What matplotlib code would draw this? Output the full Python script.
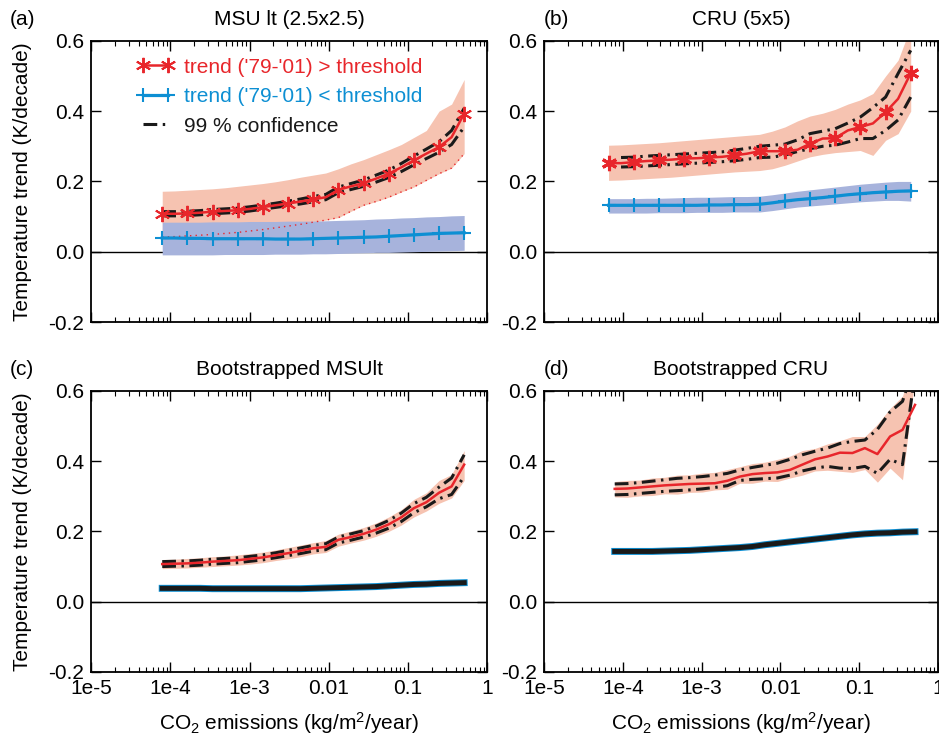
import matplotlib
matplotlib.use("Agg")
import matplotlib.pyplot as plt
import numpy as np
from matplotlib.lines import Line2D

plt.rcParams['font.family'] = ['Liberation Sans', 'DejaVu Sans']
plt.rcParams['mathtext.fontset'] = 'custom'
plt.rcParams['mathtext.rm'] = 'Liberation Sans'
plt.rcParams['mathtext.it'] = 'Liberation Sans:italic'

# emission bins (kg/m2/year)
x_msu = [7.9e-5, 1.14e-4, 1.64e-4, 2.37e-4, 3.41e-4, 4.91e-4, 7.08e-4, 1.02e-3,
         1.47e-3, 2.12e-3, 3.06e-3, 4.41e-3, 6.35e-3, 9.15e-3, 1.32e-2, 1.90e-2,
         2.74e-2, 3.95e-2, 5.69e-2, 8.2e-2, 0.118, 0.170, 0.246, 0.354, 0.51]
x_cru = [6.6e-5, 9.5e-5, 1.38e-4, 1.99e-4, 2.87e-4, 4.15e-4, 6.0e-4, 8.7e-4,
         1.25e-3, 1.81e-3, 2.61e-3, 3.77e-3, 5.45e-3, 7.87e-3, 1.14e-2, 1.64e-2,
         2.37e-2, 3.43e-2, 4.95e-2, 7.15e-2, 0.103, 0.149, 0.216, 0.311, 0.45]

# (a) MSU lt
a_hi = [0.108, 0.108, 0.109, 0.111, 0.114, 0.116, 0.118, 0.122, 0.127, 0.132, 0.137, 0.143,
        0.149, 0.155, 0.176, 0.186, 0.195, 0.208, 0.222, 0.240, 0.260, 0.279, 0.298, 0.326, 0.393]
a_hi_up = [0.114, 0.114, 0.115, 0.117, 0.120, 0.122, 0.124, 0.128, 0.133, 0.138, 0.144, 0.150,
           0.157, 0.163, 0.184, 0.194, 0.204, 0.218, 0.232, 0.251, 0.272, 0.292, 0.313, 0.345, 0.408]
a_hi_lo = [0.102, 0.102, 0.103, 0.105, 0.108, 0.110, 0.112, 0.116, 0.121, 0.126, 0.131, 0.136,
           0.142, 0.148, 0.168, 0.177, 0.186, 0.198, 0.211, 0.228, 0.247, 0.265, 0.283, 0.305, 0.355]
a_hi_smax = [0.172, 0.173, 0.175, 0.177, 0.179, 0.182, 0.186, 0.190, 0.194, 0.199, 0.205, 0.212,
             0.218, 0.224, 0.236, 0.250, 0.262, 0.276, 0.290, 0.305, 0.325, 0.345, 0.400, 0.420, 0.490]
a_hi_smin = [0.042, 0.043, 0.045, 0.047, 0.049, 0.052, 0.055, 0.059, 0.063, 0.068, 0.073, 0.078,
             0.084, 0.090, 0.097, 0.115, 0.132, 0.143, 0.155, 0.170, 0.184, 0.203, 0.222, 0.238, 0.279]
a_lo = [0.039, 0.039, 0.038, 0.038, 0.037, 0.037, 0.037, 0.037, 0.037, 0.036, 0.036, 0.036,
        0.037, 0.038, 0.039, 0.040, 0.041, 0.042, 0.044, 0.046, 0.048, 0.050, 0.052, 0.053, 0.054]
a_lo_smax = [0.084, 0.084, 0.084, 0.084, 0.085, 0.085, 0.085, 0.086, 0.086, 0.086, 0.087, 0.087,
             0.087, 0.088, 0.089, 0.090, 0.091, 0.093, 0.094, 0.096, 0.097, 0.099, 0.100, 0.102, 0.103]
a_lo_smin = [-0.009, -0.009, -0.009, -0.009, -0.009, -0.008, -0.008, -0.008, -0.008, -0.007, -0.007, -0.007,
             -0.006, -0.006, -0.005, -0.004, -0.003, -0.002, -0.002, -0.001, 0.0, 0.001, 0.002, 0.003, 0.004]

# (b) CRU
b_hi = [0.252, 0.252, 0.255, 0.258, 0.260, 0.262, 0.265, 0.266, 0.268, 0.270, 0.274, 0.279,
        0.286, 0.286, 0.286, 0.290, 0.307, 0.322, 0.323, 0.345, 0.355, 0.365, 0.397, 0.435, 0.508]
b_hi_up = [np.nan, 0.268, 0.269, 0.272, 0.274, 0.276, 0.278, 0.280, 0.282, 0.284, 0.289, 0.294,
           0.300, 0.303, 0.306, 0.318, 0.336, 0.343, 0.350, 0.366, 0.383, 0.410, 0.440, 0.507, 0.573]
b_hi_lo = [np.nan, 0.241, 0.242, 0.244, 0.246, 0.248, 0.250, 0.252, 0.254, 0.256, 0.259, 0.263,
           0.268, 0.269, 0.275, 0.285, 0.293, 0.300, 0.303, 0.312, 0.322, 0.322, 0.345, 0.375, 0.440]
b_hi_smax = [0.303, 0.304, 0.306, 0.308, 0.310, 0.313, 0.316, 0.319, 0.322, 0.325, 0.328, 0.331,
             0.334, 0.343, 0.355, 0.372, 0.386, 0.394, 0.405, 0.420, 0.432, 0.450, 0.500, 0.545, 0.640]
b_hi_smin = [0.203, 0.204, 0.206, 0.208, 0.210, 0.212, 0.215, 0.218, 0.221, 0.224, 0.227, 0.229,
             0.231, 0.236, 0.246, 0.258, 0.270, 0.277, 0.282, 0.285, 0.288, 0.274, 0.317, 0.336, 0.400]
b_lo = [0.132, 0.132, 0.132, 0.132, 0.132, 0.132, 0.132, 0.132, 0.133, 0.133, 0.134, 0.134,
        0.135, 0.139, 0.144, 0.148, 0.151, 0.154, 0.158, 0.162, 0.165, 0.168, 0.170, 0.172, 0.173]
b_lo_smax = [0.151, 0.151, 0.151, 0.152, 0.152, 0.153, 0.154, 0.155, 0.155, 0.156, 0.157, 0.157,
             0.158, 0.162, 0.167, 0.172, 0.176, 0.180, 0.184, 0.188, 0.192, 0.195, 0.198, 0.200, 0.200]
b_lo_smin = [0.110, 0.110, 0.110, 0.110, 0.111, 0.111, 0.111, 0.112, 0.112, 0.112, 0.113, 0.113,
             0.113, 0.117, 0.122, 0.127, 0.130, 0.133, 0.136, 0.139, 0.142, 0.144, 0.146, 0.146, 0.144]

# (c) bootstrapped MSU lt
c_hi = [0.107, 0.108, 0.109, 0.111, 0.114, 0.116, 0.118, 0.122, 0.126, 0.132, 0.138, 0.145,
        0.152, 0.156, 0.176, 0.184, 0.193, 0.205, 0.220, 0.240, 0.266, 0.283, 0.310, 0.328, 0.390]
c_hi_up = [0.114, 0.115, 0.116, 0.118, 0.121, 0.123, 0.125, 0.129, 0.133, 0.139, 0.146, 0.153,
           0.160, 0.165, 0.184, 0.193, 0.202, 0.215, 0.231, 0.252, 0.279, 0.297, 0.326, 0.352, 0.418]
c_hi_lo = [0.100, 0.101, 0.102, 0.104, 0.107, 0.109, 0.111, 0.115, 0.119, 0.125, 0.131, 0.137,
           0.144, 0.148, 0.167, 0.175, 0.184, 0.195, 0.209, 0.228, 0.253, 0.270, 0.293, 0.305, 0.356]
c_hi_smax = [0.120, 0.121, 0.123, 0.125, 0.128, 0.130, 0.133, 0.137, 0.141, 0.147, 0.154, 0.161,
             0.168, 0.174, 0.192, 0.201, 0.211, 0.224, 0.241, 0.262, 0.291, 0.310, 0.345, 0.362, 0.430]
c_hi_smin = [0.094, 0.095, 0.096, 0.098, 0.100, 0.102, 0.104, 0.107, 0.111, 0.117, 0.122, 0.128,
             0.136, 0.140, 0.158, 0.167, 0.175, 0.186, 0.200, 0.218, 0.241, 0.258, 0.280, 0.295, 0.345]
c_lo = [0.038, 0.038, 0.038, 0.038, 0.037, 0.037, 0.037, 0.037, 0.037, 0.037, 0.037, 0.037,
        0.038, 0.039, 0.040, 0.041, 0.042, 0.043, 0.045, 0.047, 0.049, 0.050, 0.052, 0.053, 0.054]

# (d) bootstrapped CRU
d_hi = [0.321, 0.322, 0.325, 0.328, 0.331, 0.333, 0.335, 0.336, 0.337, 0.344, 0.356, 0.363,
        0.366, 0.368, 0.375, 0.390, 0.405, 0.413, 0.424, 0.423, 0.437, 0.420, 0.470, 0.489, 0.560]
d_hi_up = [0.335, 0.336, 0.339, 0.343, 0.347, 0.351, 0.353, 0.356, 0.360, 0.365, 0.375, 0.382,
           0.388, 0.394, 0.405, 0.418, 0.428, 0.437, 0.450, 0.456, 0.460, 0.490, 0.540, 0.570, 0.680]
d_hi_lo = [0.304, 0.305, 0.308, 0.311, 0.314, 0.316, 0.318, 0.321, 0.325, 0.330, 0.345, 0.348,
           0.350, 0.352, 0.360, 0.372, 0.380, 0.385, 0.380, 0.379, 0.385, 0.365, 0.405, 0.390, 0.650]
d_hi_smax = [0.342, 0.345, 0.346, 0.352, 0.354, 0.360, 0.361, 0.366, 0.368, 0.376, 0.384, 0.393,
             0.397, 0.405, 0.414, 0.430, 0.436, 0.449, 0.458, 0.470, 0.470, 0.505, 0.550, 0.585, 0.700]
d_hi_smin = [0.298, 0.297, 0.301, 0.302, 0.307, 0.306, 0.311, 0.312, 0.318, 0.320, 0.337, 0.337,
             0.343, 0.342, 0.352, 0.360, 0.372, 0.374, 0.371, 0.368, 0.376, 0.340, 0.380, 0.347, 0.640]
d_lo = [0.143, 0.143, 0.143, 0.143, 0.144, 0.145, 0.146, 0.148, 0.150, 0.152, 0.154, 0.157,
        0.162, 0.166, 0.170, 0.174, 0.178, 0.182, 0.186, 0.190, 0.193, 0.195, 0.196, 0.198, 0.199]

RED = '#e8262b'
BLUE = '#0d8fd3'
RED_SHADE = '#f6c3b1'
BLUE_SHADE = '#a7b3dc'
DASH = [4.5, 1.8, 0.8, 1.8]
FS = 15

fig = plt.figure(figsize=(9.39, 7.36), dpi=100)
ax_a = fig.add_axes([0.097, 0.5625, 0.422, 0.382])
ax_b = fig.add_axes([0.5793, 0.5625, 0.4197, 0.382])
ax_c = fig.add_axes([0.097, 0.087, 0.422, 0.382])
ax_d = fig.add_axes([0.5793, 0.087, 0.4197, 0.382])


def dashline(ax, x, y, lw=2.2, z=4):
    ax.plot(x, y, color='#1a1a1a', lw=lw, dashes=DASH, zorder=z)


def setup(ax, label, title, bottom, left):
    ax.set_xscale('log')
    ax.set_xlim(1e-5, 1)
    ax.set_ylim(-0.2, 0.6)
    ax.axhline(0, color='black', lw=1.0, zorder=1)
    ax.set_yticks([-0.2, 0.0, 0.2, 0.4, 0.6])
    ax.set_yticklabels(['-0.2', '0.0', '0.2', '0.4', '0.6'])
    ax.set_xticks([1e-5, 1e-4, 1e-3, 1e-2, 1e-1, 1])
    ax.tick_params(which='major', direction='in', length=7, width=1.0, top=True, right=True,
                   labelsize=FS, pad=5)
    ax.tick_params(which='minor', direction='in', length=3.5, width=0.8, top=True, right=True)
    ax.yaxis.set_minor_locator(matplotlib.ticker.NullLocator())
    for s in ax.spines.values():
        s.set_linewidth(1.3)
    if bottom:
        ax.set_xticklabels(['1e-5', '1e-4', '1e-3', '0.01', '0.1', '1'])
        ax.set_xlabel(r'CO$_2$ emissions (kg/m$^2$/year)', fontsize=FS)
        ax.xaxis.set_label_coords(0.5, -0.137)
    else:
        ax.set_xticklabels([])
    if left:
        ax.set_ylabel('Temperature trend (K/decade)', fontsize=FS)
        ax.yaxis.set_label_coords(-0.148, 0.5)
        ax.text(-0.205, 1.075, label, transform=ax.transAxes, fontsize=FS, va='center', ha='left')
    else:
        ax.text(0.0, 1.075, label, transform=ax.transAxes, fontsize=FS, va='center', ha='left')
    ax.text(0.5, 1.075, title, transform=ax.transAxes, fontsize=FS, va='center', ha='center')


# (a)
ax = ax_a
ax.fill_between(x_msu, a_hi_smin, a_hi_smax, color=RED_SHADE, lw=0, zorder=2)
ax.fill_between(x_msu, a_lo_smin, a_lo_smax, color=BLUE_SHADE, lw=0, zorder=2.5)
ax.plot(x_msu, a_hi_smin, color=RED, lw=1.0, ls=(0, (1, 3)), zorder=3)
ax.plot(x_msu, a_lo, color=BLUE, lw=2.3, marker='+', ms=10, mew=1.5, markevery=2, zorder=5)
dashline(ax, x_msu, a_hi_up)
dashline(ax, x_msu, a_hi_lo)
ax.plot(x_msu, a_hi, color=RED, lw=1.8, marker=(6, 2, 0), ms=11, mew=1.4, markevery=2, zorder=6)
setup(ax, '(a)', 'MSU lt (2.5x2.5)', False, True)

handles = [Line2D([], [], color=RED, lw=1.8, marker=(6, 2, 0), ms=11, mew=1.4),
           Line2D([], [], color=BLUE, lw=2.3, marker='+', ms=10, mew=1.5),
           Line2D([], [], color='#1a1a1a', lw=2.2, dashes=DASH)]
leg = ax.legend(handles, ["trend ('79-'01) > threshold", "trend ('79-'01) < threshold", '99 % confidence'],
                loc='upper left', bbox_to_anchor=(0.115, 0.94), frameon=False, fontsize=FS,
                numpoints=2, handlelength=1.8, handletextpad=0.45, labelspacing=0.5,
                borderpad=0, borderaxespad=0, labelcolor=[RED, BLUE, '#1a1a1a'])

# (b)
ax = ax_b
ax.fill_between(x_cru, b_hi_smin, b_hi_smax, color=RED_SHADE, lw=0, zorder=2)
ax.fill_between(x_cru, b_lo_smin, b_lo_smax, color=BLUE_SHADE, lw=0, zorder=2.5)
ax.plot(x_cru, b_lo, color=BLUE, lw=2.3, marker='+', ms=10, mew=1.5, markevery=2, zorder=5)
dashline(ax, x_cru, b_hi_up)
dashline(ax, x_cru, b_hi_lo)
ax.plot(x_cru, b_hi, color=RED, lw=1.8, marker=(6, 2, 0), ms=11, mew=2.2, markevery=2, zorder=6)
setup(ax, '(b)', 'CRU (5x5)', False, False)

# (c)
ax = ax_c
ax.fill_between(x_msu, c_hi_smin, c_hi_smax, color=RED_SHADE, lw=0, zorder=2)
dashline(ax, x_msu, c_hi_up)
dashline(ax, x_msu, c_hi_lo)
ax.plot(x_msu, c_hi, color=RED, lw=1.8, zorder=6)
ax.plot(x_msu, c_lo, color=BLUE, lw=5, zorder=3)
ax.plot(x_msu, c_lo, color='#1a1a1a', lw=3.6, zorder=4)
setup(ax, '(c)', 'Bootstrapped MSUlt', True, True)

# (d)
ax = ax_d
ax.fill_between(x_msu, d_hi_smin, d_hi_smax, color=RED_SHADE, lw=0, zorder=2)
dashline(ax, x_msu, d_hi_up)
dashline(ax, x_msu, d_hi_lo)
ax.plot(x_msu, d_hi, color=RED, lw=1.8, zorder=6)
ax.plot(x_msu, d_lo, color=BLUE, lw=5, zorder=3)
ax.plot(x_msu, d_lo, color='#1a1a1a', lw=3.6, zorder=4)
setup(ax, '(d)', 'Bootstrapped CRU', True, False)

fig.savefig('out.png', dpi=100)
